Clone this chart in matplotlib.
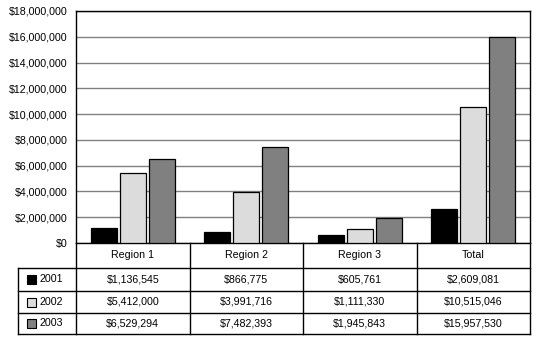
import matplotlib
matplotlib.use("Agg")
import matplotlib.pyplot as plt
from matplotlib.lines import Line2D
from matplotlib.patches import Rectangle
import numpy as np

categories = ["Region 1", "Region 2", "Region 3", "Total"]
years = ["2001", "2002", "2003"]
v2001 = [1136545, 866775, 605761, 2609081]
v2002 = [5412000, 3991716, 1111330, 10515046]
v2003 = [6529294, 7482393, 1945843, 15957530]
colors = ["#000000", "#dcdcdc", "#808080"]
yticks = [0, 2000000, 4000000, 6000000, 8000000, 10000000, 12000000, 14000000, 16000000, 18000000]

plt.rcParams['font.family'] = ['Liberation Sans', 'DejaVu Sans']
FS = 7.7

W, H = 538, 338
fig = plt.figure(figsize=(W / 100, H / 100), dpi=100)

L, R, T, B = 76, 530, 11, 243
ax = fig.add_axes([L / W, 1 - B / H, (R - L) / W, (B - T) / H])

series = [v2001, v2002, v2003]
x = np.arange(len(categories))
bw = 26 / 113.5
off = 29 / 113.5
for i, s in enumerate(series):
    ax.bar(x + (i - 1) * off, s, width=bw, color=colors[i], edgecolor="black",
           linewidth=0.9, zorder=3)

ax.set_xlim(-0.5, len(categories) - 0.5)
ax.set_ylim(0, 18000000)
ax.set_yticks(yticks)
ax.set_yticklabels(["${:,}".format(v) for v in yticks], fontsize=FS)
ax.set_xticks([])
ax.tick_params(axis="y", length=0, pad=6)
ax.yaxis.grid(True, color="#808080", linewidth=1.0, zorder=1)
for sp in ax.spines.values():
    sp.set_color("black")
    sp.set_linewidth(1.0)

# table
def fx(px):
    return px / W

def fy(py):
    return 1 - py / H

col_edges = [L + k * (R - L) / 4 for k in range(5)]
row_edges = [243, 268, 291, 313, 334]
leg_left = 18

def hline(y, x0, x1):
    fig.add_artist(Line2D([fx(x0), fx(x1)], [fy(y), fy(y)], color="black", linewidth=1.0))

def vline(x0, y0, y1):
    fig.add_artist(Line2D([fx(x0), fx(x0)], [fy(y0), fy(y1)], color="black", linewidth=1.0))

for yy in row_edges[1:]:
    hline(yy, leg_left, R)
for xx in col_edges:
    vline(xx, row_edges[0], row_edges[-1])
vline(leg_left, row_edges[1], row_edges[-1])

for k, c in enumerate(categories):
    cx = (col_edges[k] + col_edges[k + 1]) / 2
    cy = (row_edges[0] + row_edges[1]) / 2
    fig.text(fx(cx), fy(cy), c, ha="center", va="center", fontsize=FS)

for i, s in enumerate(series):
    cy = (row_edges[i + 1] + row_edges[i + 2]) / 2
    fig.add_artist(Rectangle((fx(27), fy(cy + 4.5)), 9 / W, 9 / H, facecolor=colors[i],
                             edgecolor="black", linewidth=0.8, transform=fig.transFigure))
    fig.text(fx(40), fy(cy), years[i], ha="left", va="center", fontsize=FS)
    for k, v in enumerate(s):
        cx = (col_edges[k] + col_edges[k + 1]) / 2
        fig.text(fx(cx), fy(cy), "${:,}".format(v), ha="center", va="center", fontsize=FS)

fig.savefig("out.png", dpi=100)
